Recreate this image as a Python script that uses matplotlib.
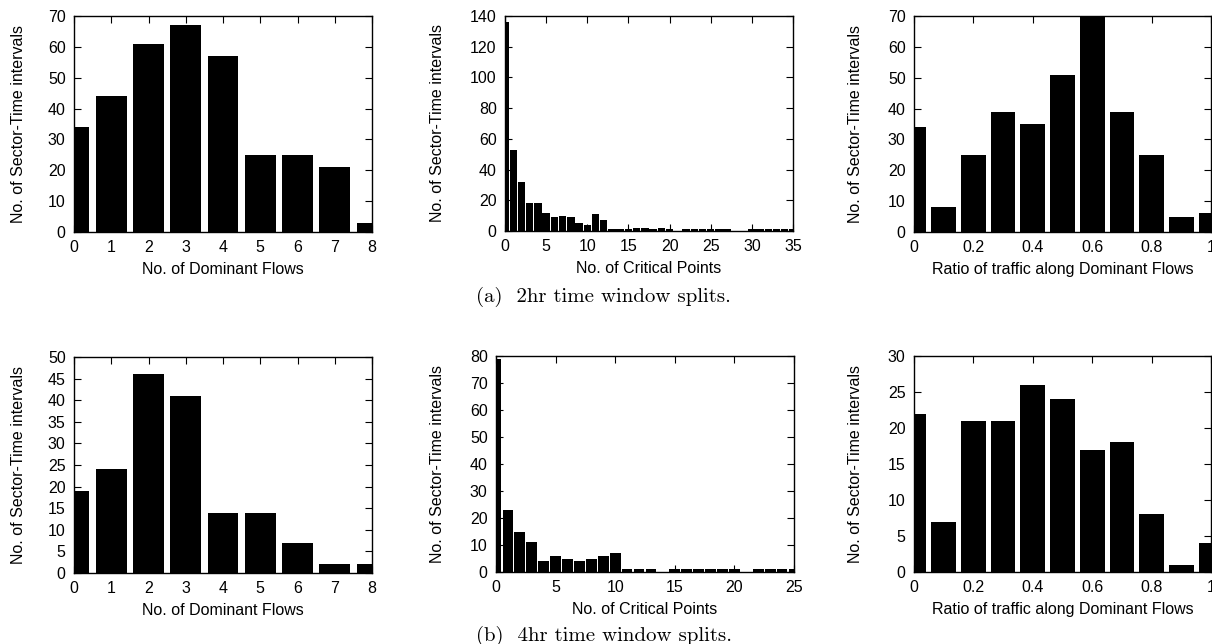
import matplotlib
matplotlib.use("Agg")
import matplotlib.pyplot as plt
import numpy as np

plt.rcParams["font.family"] = ["Liberation Sans", "DejaVu Sans"]

# ---- data ----
flows = list(range(0, 9))
flows_2hr = [34, 44, 61, 67, 57, 25, 25, 21, 3]
flows_4hr = [19, 24, 46, 41, 14, 14, 7, 2, 2]

crit_2hr_x = list(range(0, 36))
crit_2hr = [136, 53, 32, 18, 18, 12, 9, 10, 9, 5, 4, 11, 7, 1, 1, 1, 2, 2,
            1, 2, 1, 0, 1, 1, 1, 1, 1, 1, 0, 0, 1, 1, 1, 1, 1, 1]
crit_4hr_x = list(range(0, 26))
crit_4hr = [79, 23, 15, 11, 4, 6, 5, 4, 5, 6, 7, 1, 1, 1, 0, 1, 1, 1,
            1, 1, 1, 0, 1, 1, 1, 1]

ratio = [0.0, 0.1, 0.2, 0.3, 0.4, 0.5, 0.6, 0.7, 0.8, 0.9, 1.0]
ratio_2hr = [34, 8, 25, 39, 35, 51, 70, 39, 25, 5, 6]
ratio_4hr = [22, 7, 21, 21, 26, 24, 17, 18, 8, 1, 4]

ylab = "No. of Sector-Time intervals"
FS = 11.5

W, H = 1212, 644
fig = plt.figure(figsize=(W / 100, H / 100), dpi=100)


def make_axes(x0, y0, x1, y1):
    # pixel box (top-left origin) -> figure fraction
    return fig.add_axes([x0 / W, 1 - y1 / H, (x1 - x0) / W, (y1 - y0) / H])


def style(ax, xlim, ylim, xticks, yticks, xlabel, ylab_x):
    ax.set_xlim(*xlim)
    ax.set_ylim(*ylim)
    ax.set_xticks(xticks)
    ax.set_yticks(yticks)
    ax.set_xticklabels(["%g" % t for t in xticks])
    ax.set_yticklabels(["%g" % t for t in yticks])
    ax.tick_params(direction="in", length=5, width=0.8, top=True, right=True,
                   labelsize=FS, pad=6)
    for s in ax.spines.values():
        s.set_linewidth(1.0)
    ax.set_xlabel(xlabel, fontsize=FS, labelpad=5)
    ax.set_ylabel(ylab, fontsize=FS)
    ax.yaxis.set_label_coords(ylab_x, 0.5)


# top row: 2hr
ax = make_axes(74, 16, 372, 232)
ax.bar(flows, flows_2hr, width=0.82, color="black")
style(ax, (0, 8), (0, 70), flows, range(0, 71, 10), "No. of Dominant Flows", -0.161)

ax = make_axes(505, 16, 793, 231)
ax.bar(crit_2hr_x, crit_2hr, width=0.9, color="black")
style(ax, (0, 35), (0, 140), range(0, 36, 5), range(0, 141, 20), "No. of Critical Points", -0.208)

ax = make_axes(914, 16, 1211, 232)
ax.bar(ratio, ratio_2hr, width=0.083, color="black")
style(ax, (0, 1), (0, 70), [0, 0.2, 0.4, 0.6, 0.8, 1], range(0, 71, 10),
      "Ratio of traffic along Dominant Flows", -0.172)

# bottom row: 4hr
ax = make_axes(74, 357, 372, 573)
ax.bar(flows, flows_4hr, width=0.82, color="black")
style(ax, (0, 8), (0, 50), flows, range(0, 51, 5), "No. of Dominant Flows", -0.161)

ax = make_axes(496, 356, 794, 572)
ax.bar(crit_4hr_x, crit_4hr, width=0.9, color="black")
style(ax, (0, 25), (0, 80), range(0, 26, 5), range(0, 81, 10), "No. of Critical Points", -0.171)

ax = make_axes(914, 356, 1211, 572)
ax.bar(ratio, ratio_4hr, width=0.083, color="black")
style(ax, (0, 1), (0, 30), [0, 0.2, 0.4, 0.6, 0.8, 1], range(0, 31, 5),
      "Ratio of traffic along Dominant Flows", -0.172)

# sub-figure captions
fig.text(476 / W, 1 - 297 / H, "(a)  2hr time window splits.", family="cmr10",
         fontsize=15, ha="left", va="center")
fig.text(476 / W, 1 - 636 / H, "(b)  4hr time window splits.", family="cmr10",
         fontsize=15, ha="left", va="center")

fig.savefig("out.png", dpi=100)
